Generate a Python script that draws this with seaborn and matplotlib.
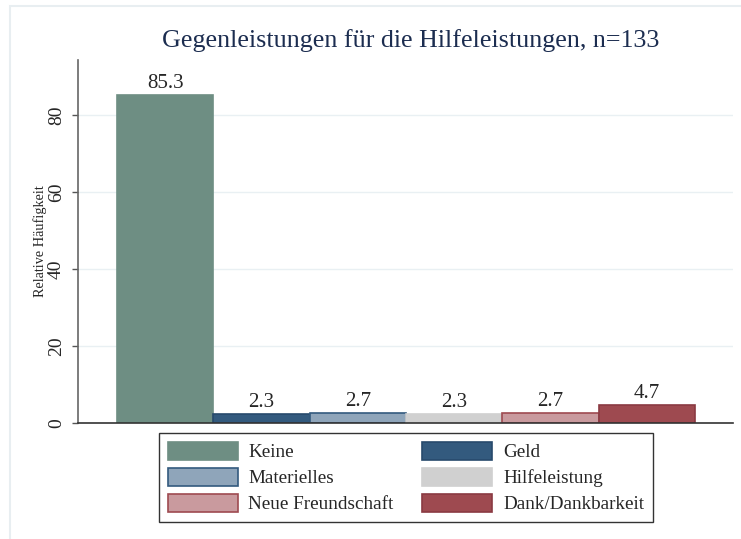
import matplotlib
matplotlib.use("Agg")
import matplotlib.pyplot as plt
from matplotlib.patches import Patch, Rectangle
import seaborn as sns
import pandas as pd

# Data
categories = ["Keine", "Geld", "Materielles", "Hilfeleistung",
              "Neue Freundschaft", "Dank/Dankbarkeit"]
values = [85.3, 2.3, 2.7, 2.3, 2.7, 4.7]
labels = ["85.3", "2.3", "2.7", "2.3", "2.7", "4.7"]

fill_colors = ["#6e8e83", "#335a7e", "#8fa5ba", "#d0d0d0", "#c99a9e", "#9e4a50"]
edge_colors = ["#6e8e83", "#274a6c", "#335a7e", "#d0d0d0", "#9e4a50", "#8a3a42"]

df = pd.DataFrame({"Kategorie": categories, "Wert": values})

sns.set_style("white")
plt.rcParams["font.family"] = ["Liberation Serif", "DejaVu Serif"]

fig = plt.figure(figsize=(7.41, 5.39), dpi=100)
ax = fig.add_axes([78 / 741, 1 - 423 / 539, (733 - 78) / 741, (423 - 60) / 539])

sns.barplot(data=df, x="Kategorie", y="Wert", hue="Kategorie",
            palette=fill_colors, saturation=1, width=1, dodge=False,
            legend=False, ax=ax)

for bar, ec in zip(ax.patches, edge_colors):
    bar.set_edgecolor(ec)
    bar.set_linewidth(1.2)

for container, lab in zip(ax.containers, labels):
    ax.bar_label(container, labels=[lab], padding=1.5, fontsize=15)

ax.set_xlim(-0.905, 5.894)
ax.set_ylim(0, 94.3)
ax.set_yticks([0, 20, 40, 60, 80])
ax.set_xticks([])
ax.set_xlabel("")
ax.set_ylabel("")
ax.yaxis.grid(True, color="#e9f0f3", lw=1)
ax.set_axisbelow(True)
ax.tick_params(axis="y", left=True, length=4.5, width=1, color="#555555",
               labelsize=14, labelrotation=90, pad=5)
for t in ax.get_yticklabels():
    t.set_va("center")

for s in ["top", "right"]:
    ax.spines[s].set_visible(False)
ax.spines["left"].set_color("#666666")
ax.spines["bottom"].set_color("#333333")
ax.spines["left"].set_linewidth(1.2)
ax.spines["bottom"].set_linewidth(1.2)

fig.text(411 / 741, 1 - 41 / 539, "Gegenleistungen für die Hilfeleistungen, n=133",
         ha="center", va="center", fontsize=18.7, color="#1c2d50")
fig.text(40 / 741, 1 - 241 / 539, "Relative Häufigkeit", rotation=90,
         ha="center", va="center", fontsize=10.3)

# legend filled row by row: matplotlib fills columns, so reorder
order = [0, 2, 4, 1, 3, 5]
handles = [Patch(facecolor=fill_colors[i], edgecolor=edge_colors[i], lw=1.2)
           for i in order]
leg = fig.legend(handles, [categories[i] for i in order], ncol=2,
                 loc="upper center", bbox_to_anchor=(406 / 741, 1 - 433 / 539),
                 fontsize=13.8, frameon=True, fancybox=False, borderaxespad=0,
                 handlelength=3.65, handleheight=1.1, handletextpad=0.57,
                 columnspacing=1.5, labelspacing=0.33, borderpad=0.45)
leg.get_frame().set_edgecolor("black")
leg.get_frame().set_linewidth(1)

# faint outer frame of the graph region
fig.patches.append(Rectangle((10 / 741, -0.1), 1.2, 1.1 - 6 / 539,
                             transform=fig.transFigure, fill=False,
                             edgecolor="#e8eef1", lw=1.5))

fig.savefig("out.png", dpi=100, facecolor="white")
